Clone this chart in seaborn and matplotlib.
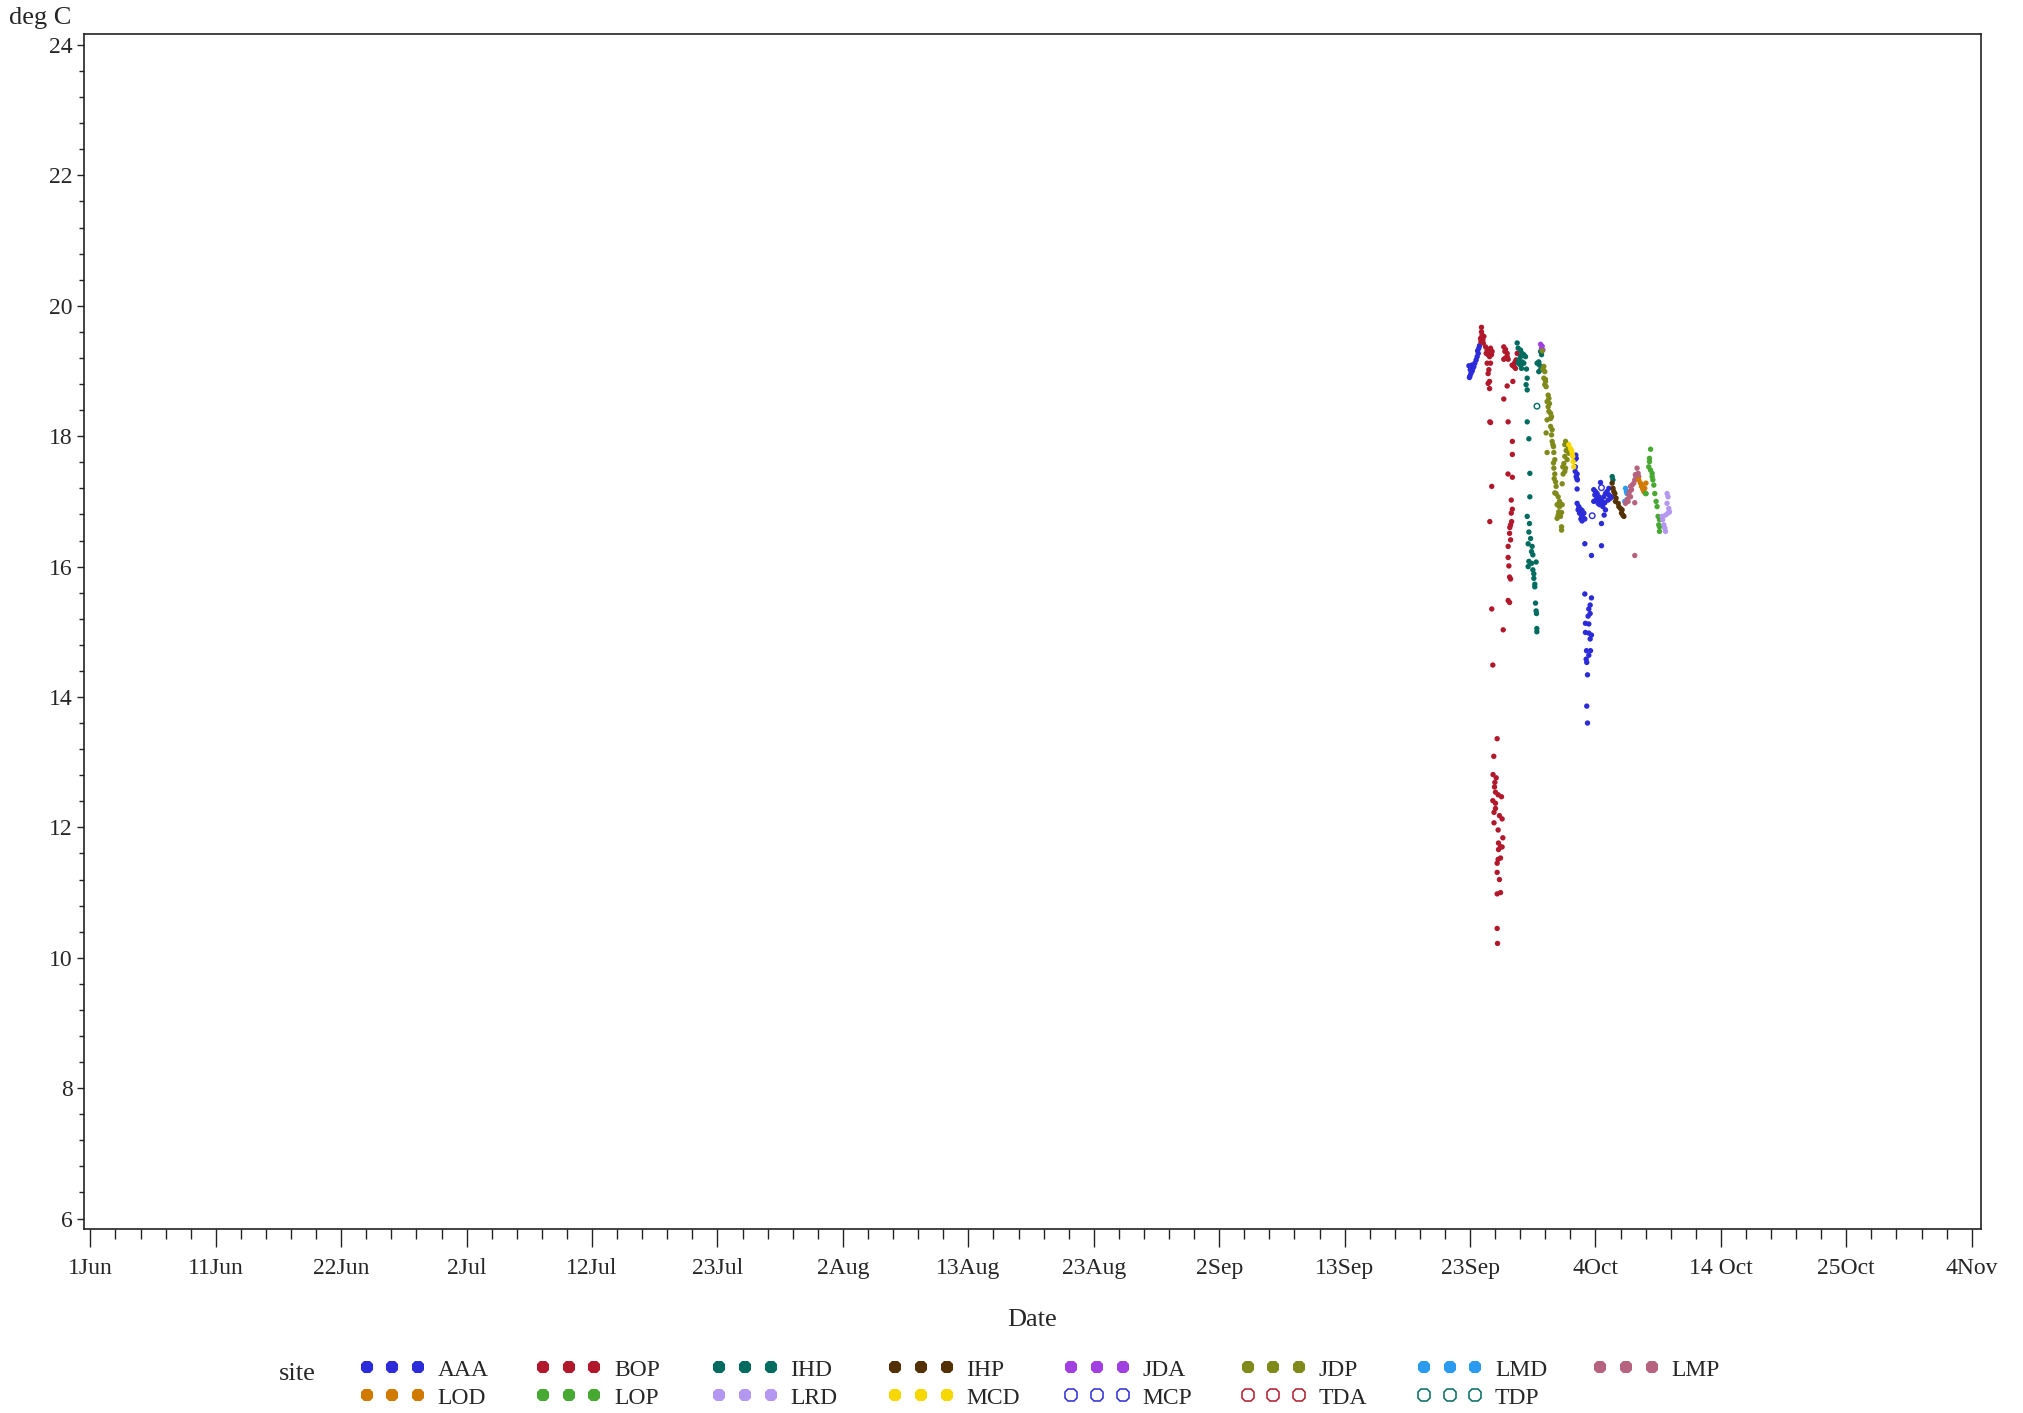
import matplotlib
matplotlib.use("Agg")
import numpy as np
import pandas as pd
import matplotlib.pyplot as plt
import seaborn as sns
from matplotlib.lines import Line2D

# ---------------------------------------------------------------------------
# Water temperature readings (deg C) by site; x = days after 1 June
# ---------------------------------------------------------------------------
aaa = [(114.39, 18.92), (114.47, 18.96), (114.58, 19.00), (114.64, 19.04), (114.72, 19.07),
       (114.53, 19.09), (114.31, 19.08), (114.80, 19.12), (114.91, 19.17), (114.99, 19.22),
       (115.08, 19.27), (115.03, 19.31), (115.13, 19.35), (115.19, 19.39), (114.35, 18.90),
       (114.42, 19.02),
       (123.09, 17.64), (123.17, 17.71), (123.14, 17.53), (123.21, 17.66), (123.12, 17.46),
       (123.28, 17.42), (123.20, 17.38), (123.30, 17.33), (123.28, 17.19), (123.26, 17.35),
       (123.28, 16.97), (123.42, 16.92), (123.56, 16.88), (123.36, 16.87), (123.69, 16.86),
       (123.48, 16.82), (123.84, 16.82), (123.64, 16.79), (123.75, 16.76), (123.59, 16.73),
       (123.92, 16.73), (123.69, 16.70),
       (124.66, 17.18), (124.80, 17.15), (124.75, 17.10), (124.94, 17.12), (125.08, 17.07),
       (124.86, 17.03), (125.22, 17.02), (124.66, 17.00), (125.02, 16.97), (125.35, 17.00),
       (125.49, 17.07), (125.63, 17.12), (125.76, 17.15), (125.91, 17.10), (126.05, 17.05),
       (125.85, 17.02), (125.58, 16.98), (125.41, 16.92), (125.63, 16.87), (125.52, 16.79),
       (125.22, 17.29), (125.14, 16.95), (125.30, 16.66), (125.91, 17.20), (126.13, 17.07),
       (123.92, 16.35), (125.30, 16.32), (124.47, 16.17),
       (123.92, 15.58), (124.47, 15.52), (124.36, 15.41), (124.25, 15.35), (124.36, 15.28),
       (124.19, 15.24), (123.97, 15.13), (124.25, 15.12), (123.97, 14.99), (124.25, 14.98),
       (124.47, 14.95), (124.36, 14.89), (124.06, 14.71), (124.39, 14.71), (124.25, 14.64),
       (124.03, 14.58), (124.08, 14.53), (124.14, 14.34), (124.08, 13.86), (124.14, 13.60)]

bop = [(115.35, 19.67), (115.40, 19.55), (115.27, 19.50), (115.46, 19.48), (115.55, 19.53),
       (115.35, 19.60), (115.30, 19.45), (115.50, 19.43),
       (115.69, 19.37), (115.82, 19.32), (115.96, 19.30), (116.10, 19.35), (116.23, 19.30),
       (115.90, 19.25), (115.74, 19.27), (116.02, 19.22), (116.18, 19.25),
       (115.82, 19.12), (116.10, 19.12), (115.96, 19.02), (115.90, 18.96), (116.02, 18.84),
       (115.90, 18.81), (116.02, 18.73), (116.04, 18.22), (116.10, 18.21), (116.20, 17.23),
       (116.04, 16.69), (116.20, 15.35), (117.15, 15.03), (116.29, 14.49),
       (116.65, 13.36), (116.37, 13.09), (116.31, 12.81), (116.57, 12.76), (116.46, 12.69),
       (116.43, 12.62), (116.51, 12.54), (116.73, 12.50), (117.01, 12.47), (116.29, 12.41),
       (116.51, 12.37), (116.51, 12.29), (116.39, 12.23), (116.84, 12.18), (117.06, 12.13),
       (116.39, 12.07), (116.73, 11.96), (117.12, 11.84), (116.76, 11.76), (116.93, 11.70),
       (117.06, 11.70), (116.76, 11.66), (116.73, 11.51), (116.93, 11.53), (116.65, 11.45),
       (116.65, 11.31), (116.84, 11.20), (116.65, 10.98), (116.93, 11.00), (116.65, 10.45),
       (116.68, 10.22),
       (117.20, 19.37), (117.34, 19.33), (117.29, 19.30), (117.48, 19.27), (117.34, 19.20),
       (117.20, 19.18), (117.56, 19.18), (117.48, 19.22), (117.48, 18.77), (117.95, 18.84),
       (117.20, 18.57), (117.56, 18.22), (117.91, 17.92), (117.91, 17.72), (117.55, 17.42),
       (117.91, 17.37), (117.82, 17.02), (117.91, 16.88), (117.82, 16.82), (117.85, 16.69),
       (117.76, 16.64), (117.70, 16.60), (117.68, 16.51), (117.76, 16.41), (117.56, 16.31),
       (117.56, 16.14), (117.62, 16.01), (117.68, 15.84), (117.76, 15.81), (117.56, 15.48),
       (117.68, 15.45),
       (117.89, 19.09), (118.03, 19.07), (118.17, 19.04), (118.11, 19.13), (118.31, 19.27),
       (118.22, 19.17)]

ihd = [(118.31, 19.43), (118.39, 19.35), (118.59, 19.32), (118.72, 19.27), (118.86, 19.25),
       (119.00, 19.22), (118.59, 19.22), (118.45, 19.17), (118.72, 19.14), (118.59, 19.09),
       (118.39, 19.12), (118.86, 19.12), (118.67, 19.04), (119.08, 19.03), (119.14, 18.89),
       (119.05, 18.79), (119.14, 18.71), (119.14, 18.22), (119.28, 17.96), (119.36, 17.43),
       (119.36, 17.07), (119.14, 16.77), (119.33, 16.66), (119.28, 16.53), (119.42, 16.43),
       (119.22, 16.35), (119.55, 16.31), (119.50, 16.23), (119.61, 16.18), (119.28, 16.08),
       (119.50, 16.05), (119.88, 16.07), (119.22, 16.00), (119.61, 15.95), (119.69, 15.89),
       (119.69, 15.82), (119.77, 15.73), (119.77, 15.69), (119.83, 15.44), (119.88, 15.32),
       (119.91, 15.28), (119.94, 15.05), (119.94, 15.00),
       (120.25, 19.30), (120.33, 19.25), (120.10, 19.14), (119.96, 19.12), (120.16, 19.09),
       (120.25, 19.02), (120.10, 18.99),
       (126.19, 17.38), (126.25, 17.33)]

ihp = [(126.18, 17.28), (126.26, 17.20), (126.41, 17.12), (126.51, 17.05), (126.46, 17.00),
       (126.68, 16.97), (126.74, 16.92), (126.88, 16.89), (127.01, 16.87), (126.96, 16.82),
       (127.07, 16.79), (127.16, 16.77), (126.32, 17.15)]

jda = [(120.25, 19.41), (120.38, 19.38), (120.33, 19.35), (120.44, 19.32)]

jdp = [(120.38, 19.31), (120.52, 19.07), (120.44, 19.03), (120.60, 18.99), (120.52, 18.89),
       (120.66, 18.84), (120.60, 18.79), (120.71, 18.76), (120.66, 18.87), (120.88, 18.63),
       (120.94, 18.58), (120.79, 18.53), (120.99, 18.50), (120.88, 18.45), (120.94, 18.38),
       (121.08, 18.35), (120.79, 18.25), (121.08, 18.27), (121.16, 18.30), (121.08, 18.15),
       (121.21, 18.10), (121.16, 18.02), (120.71, 18.05), (121.21, 17.92), (121.27, 17.87),
       (121.32, 17.84), (120.79, 17.75), (121.35, 17.75), (121.43, 17.64), (121.32, 17.59),
       (121.35, 17.51), (121.43, 17.42), (121.38, 17.35), (121.49, 17.30), (121.54, 17.23),
       (121.43, 17.13), (122.04, 17.27), (121.54, 17.12), (121.71, 17.07), (121.82, 17.00),
       (121.62, 16.95), (121.82, 16.92), (121.76, 16.84), (121.71, 16.79), (121.90, 16.77),
       (121.62, 16.74), (122.04, 16.95), (121.99, 16.83), (121.99, 16.61), (121.99, 16.56),
       (122.32, 17.92), (122.45, 17.88), (122.26, 17.87), (122.54, 17.81), (122.37, 17.78),
       (122.26, 17.69), (122.18, 17.58), (122.09, 17.53), (122.32, 17.51), (122.26, 17.46),
       (122.12, 17.42), (122.45, 17.64), (122.59, 17.74)]

lmd = [(127.29, 17.20), (127.37, 17.15), (127.42, 17.12), (127.23, 17.00)]

lmp = [(128.25, 17.51), (128.34, 17.43), (128.17, 17.38), (128.06, 17.33), (127.98, 17.28),
       (127.84, 17.25), (127.71, 17.23), (127.79, 17.18), (127.62, 17.15), (127.57, 17.10),
       (127.71, 17.07), (127.42, 17.03), (127.51, 17.00), (127.29, 16.97), (128.06, 16.98),
       (128.11, 17.41), (128.39, 17.38), (128.06, 16.17)]

lod = [(128.39, 17.33), (128.53, 17.28), (128.62, 17.23), (128.72, 17.19), (128.89, 17.20),
       (128.81, 17.15), (128.67, 17.25), (128.99, 17.28)]

lop = [(129.37, 17.80), (129.28, 17.66), (129.22, 17.53), (129.37, 17.48), (129.50, 17.38),
       (129.56, 17.33), (129.64, 17.25), (129.00, 17.12), (128.95, 17.12), (129.72, 17.12),
       (129.83, 17.00), (129.91, 16.92), (129.99, 16.77), (130.11, 16.72), (130.05, 16.64),
       (130.11, 16.61), (130.11, 16.54), (129.28, 17.61), (129.50, 17.43)]

lrd = [(130.74, 17.12), (130.82, 17.07), (130.74, 16.97), (130.88, 16.89), (130.94, 16.84),
       (130.82, 16.82), (130.61, 16.79), (130.33, 16.77), (130.38, 16.72), (130.47, 16.64),
       (130.55, 16.59), (130.61, 16.54)]

mcd = [(122.59, 17.87), (122.73, 17.81), (122.82, 17.78), (122.87, 17.74), (122.92, 17.69),
       (122.95, 17.61), (123.00, 17.53)]

mcp = [(124.53, 16.78), (125.30, 17.21)]
tda = []
tdp = [(119.95, 18.46)]

# Legend order (filled column-wise, two rows)
site_order = ["AAA", "LOD", "BOP", "LOP", "IHD", "LRD", "IHP", "MCD",
              "JDA", "MCP", "JDP", "TDA", "LMD", "TDP", "LMP"]
site_colors = {"AAA": "#2B2BD9", "BOP": "#B2182B", "IHD": "#006B5F", "IHP": "#543005",
               "JDA": "#A040E0", "JDP": "#808A1A", "LMD": "#2B9BF0", "LMP": "#B5637F",
               "LOD": "#D07A00", "LOP": "#47A832", "LRD": "#B497F0", "MCD": "#F7D700",
               "MCP": "#2B2BD9", "TDA": "#B2182B", "TDP": "#006B5F"}
open_sites = ["MCP", "TDA", "TDP"]

# x-axis tick labels (evenly spaced from 1 Jun to 4 Nov)
date_labels = ["1Jun", "11Jun", "22Jun", "2Jul", "12Jul", "23Jul", "2Aug", "13Aug",
               "23Aug", "2Sep", "13Sep", "23Sep", "4Oct", "14 Oct", "25Oct", "4Nov"]
span_days = 156.0

site_points = {"AAA": aaa, "BOP": bop, "IHD": ihd, "IHP": ihp, "JDA": jda, "JDP": jdp,
               "LMD": lmd, "LMP": lmp, "LOD": lod, "LOP": lop, "LRD": lrd, "MCD": mcd,
               "MCP": mcp, "TDA": tda, "TDP": tdp}

rows = []
for site, pts in site_points.items():
    for d, t in pts:
        rows.append({"site": site, "day": d, "temp": t})
df = pd.DataFrame(rows)

# ---------------------------------------------------------------------------
sns.set_style("white")
plt.rcParams["font.family"] = ["Liberation Serif", "DejaVu Serif"]
FS = 17
FS_TITLE = 19

fig = plt.figure(figsize=(20.24, 14.13), dpi=100)
ax = fig.add_axes([84 / 2024, 1 - 1229 / 1413, 1897 / 2024, (1229 - 33.6) / 1413])

filled = df[~df["site"].isin(open_sites)]
sns.scatterplot(data=filled, x="day", y="temp", hue="site",
                palette={k: v for k, v in site_colors.items() if k not in open_sites},
                s=15, marker="o", linewidth=0, legend=False, ax=ax)
for site in open_sites:
    sub = df[df["site"] == site]
    if len(sub):
        sns.scatterplot(data=sub, x="day", y="temp", marker="o", s=16,
                        facecolors="none", edgecolors=site_colors[site],
                        linewidths=1.0, legend=False, ax=ax)

ax.set_xlim(-0.53, 156.77)
ax.set_ylim(5.84, 24.175)

step = span_days / (len(date_labels) - 1)
ax.set_xticks(np.arange(len(date_labels)) * step)
ax.set_xticklabels(date_labels)
ax.set_xticks(np.arange(0, span_days + 0.01, step / 5), minor=True)
ax.set_yticks(np.arange(6, 25, 2))
ax.set_yticks(np.arange(6, 24.01, 0.4), minor=True)

ax.tick_params(axis="x", which="major", direction="out", length=13, width=1.0,
               pad=8, labelsize=FS, color="#222222", bottom=True)
ax.tick_params(axis="x", which="minor", direction="out", length=7.5, width=1.0,
               color="#222222", bottom=True)
ax.tick_params(axis="y", which="major", direction="out", length=5, width=1.0,
               pad=3, labelsize=FS, color="#222222", left=True)
ax.tick_params(axis="y", which="minor", direction="out", length=3.5, width=1.0,
               color="#222222", left=True)

for sp in ax.spines.values():
    sp.set_visible(True)
    sp.set_color("#222222")
    sp.set_linewidth(1.2)

ax.set_xlabel("Date", fontsize=FS_TITLE)
ax.xaxis.set_label_coords(0.5, -(1309 - 1229) / (1229 - 33.6))
ax.set_ylabel("")
fig.text(40 / 2024, 1 - 18 / 1413, "deg C", ha="center", va="center", fontsize=FS_TITLE)

# Legend: "site" title and eight two-row columns
fig.text(297 / 2024, 1 - 1374 / 1413, "site", ha="center", va="center", fontsize=FS_TITLE)
fs_px = FS * 100 / 72
col_pitch = 176.2
for c in range(8):
    names = site_order[2 * c: 2 * c + 2]
    handles = []
    for n in names:
        if n in open_sites:
            h = Line2D([], [], linestyle="none", marker="8", markersize=9.5,
                       markerfacecolor="none", markeredgecolor=site_colors[n],
                       markeredgewidth=1.1)
        else:
            h = Line2D([], [], linestyle="none", marker="8", markersize=10,
                       markerfacecolor=site_colors[n], markeredgecolor=site_colors[n],
                       markeredgewidth=0)
        handles.append(h)
    left_px = 366.6 - 0.3 * fs_px + c * col_pitch
    fig.legend(handles, names, loc="upper left",
               bbox_to_anchor=(left_px / 2024, 1 - 1359 / 1413),
               bbox_transform=fig.transFigure, frameon=False, borderpad=0,
               borderaxespad=0, numpoints=3, handlelength=51.6 / fs_px + 0.6,
               handletextpad=12.5 / fs_px, labelspacing=0.28, fontsize=FS)

fig.savefig("out.png", dpi=100)
